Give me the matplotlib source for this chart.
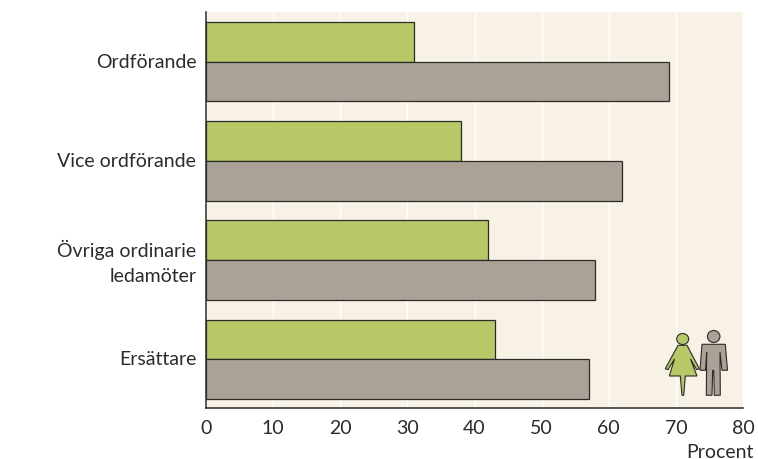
import matplotlib
matplotlib.use("Agg")
import matplotlib.pyplot as plt
from matplotlib.patches import Polygon, Ellipse
from matplotlib.transforms import Affine2D, ScaledTranslation

# === Data ===
categories = ["Ordförande", "Vice ordförande", "Övriga ordinarie\nledamöter", "Ersättare"]
women = [31, 38, 42, 43]
men = [69, 62, 58, 57]
xticks = [0, 10, 20, 30, 40, 50, 60, 70, 80]

GREEN = "#b7c866"
GREY = "#aaa296"
BG = "#f8f1e5"
DARK = "#2b2b2b"
W, H = 758, 460

plt.rcParams['font.family'] = ['Lato', 'DejaVu Sans']
plt.rcParams['text.color'] = DARK
FS = 14

fig = plt.figure(figsize=(W / 100, H / 100), dpi=100)
ax = fig.add_axes([206 / W, 1 - 409 / H, (743 - 206) / W, (409 - 13) / H])
ax.set_facecolor(BG)

ypos = list(range(len(categories)))
ax.barh([y - 0.2 for y in ypos], women, height=0.4, color=GREEN, edgecolor=DARK, linewidth=0.9, zorder=3)
ax.barh([y + 0.2 for y in ypos], men, height=0.4, color=GREY, edgecolor=DARK, linewidth=0.9, zorder=3)

ax.set_xlim(0, 80)
ax.set_ylim(3.49, -0.5)
ax.set_xticks(xticks)
ax.set_yticks(ypos)
ax.set_yticklabels(categories, linespacing=1.55, ha='right')
ax.tick_params(axis='y', length=0, pad=7, labelsize=FS, labelcolor=DARK)
ax.tick_params(axis='x', length=0, pad=8, labelsize=FS, labelcolor=DARK)
ax.grid(axis='x', color='white', linewidth=1, zorder=1)
ax.set_axisbelow(True)

# labels sit a touch above the bar group centre
for lab in ax.get_yticklabels():
    shift = 4 if "\n" in lab.get_text() else 2
    up = ScaledTranslation(0, shift / 100, fig.dpi_scale_trans)
    lab.set_transform(lab.get_transform() + up)

for s in ['top', 'right']:
    ax.spines[s].set_visible(False)
ax.spines['left'].set_color(DARK)
ax.spines['left'].set_linewidth(1.1)
ax.spines['bottom'].set_color(DARK)
ax.spines['bottom'].set_linewidth(1.1)

fig.text(754 / W, 1 - 458 / H, "Procent", ha='right', va='baseline', fontsize=FS)

# === Pictogram (image pixel coordinates) ===
px = Affine2D().scale(1 / W, -1 / H).translate(0, 1) + fig.transFigure

woman_body = [(678, 346.3), (687, 346.3), (699.3, 369.7), (696.7, 370.7), (690.5, 360),
              (697, 377), (685.3, 377), (683.7, 396.3), (682, 396.3), (680.3, 377), (669.3, 377),
              (674.5, 360), (668, 370.7), (665.3, 369.7)]
man_body = [(702, 345.3), (725.3, 345.3), (727.5, 371.3), (722, 371.3), (720, 353), (720.3, 396.3),
            (714.3, 396.3), (713.7, 371.3), (712.7, 371.3), (712, 396.3), (706.3, 396.3), (706.7, 353),
            (705.5, 371.3), (700, 371.3)]

fig.add_artist(Polygon(woman_body, closed=True, transform=px, fc=GREEN, ec=DARK, lw=0.8, joinstyle='miter'))
fig.add_artist(Ellipse((682.7, 340), 12, 11, transform=px, fc=GREEN, ec=DARK, lw=0.8))
fig.add_artist(Polygon(man_body, closed=True, transform=px, fc=GREY, ec=DARK, lw=0.8, joinstyle='miter'))
fig.add_artist(Ellipse((713.7, 337.5), 12.5, 12, transform=px, fc=GREY, ec=DARK, lw=0.8))

fig.savefig("out.png", dpi=100)
